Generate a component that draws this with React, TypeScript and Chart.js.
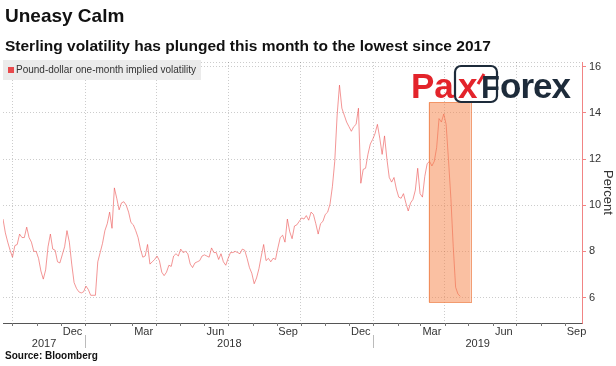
import React, { useEffect, useRef } from "react";
import { Chart, registerables } from "chart.js";

Chart.register(...registerables);

const TITLE = "Uneasy Calm";
const SUBTITLE = "Sterling volatility has plunged this month to the lowest since 2017";
const SERIES_LABEL = "Pound-dollar one-month implied volatility";
const SOURCE = "Source: Bloomberg";
const Y_TITLE = "Percent";

// Pound-dollar one-month implied volatility, one reading every 3 calendar days
const SERIES_START = "2017-09-19";
const SERIES_STEP_DAYS = 3;
const volatility = [
  9.4, 8.8, 8.4, 8.05, 7.75, 8.25, 8.3, 8.75, 8.6, 8.6,
  9.05, 8.6, 8.4, 8.0, 8.0, 7.7, 7.15, 6.8, 7.2, 8.2,
  8.75, 8.1, 8.05, 7.55, 7.5, 7.85, 8.2, 8.9, 8.4, 7.45,
  6.65, 6.4, 6.25, 6.2, 6.25, 6.5, 6.35, 6.1, 6.1, 6.1,
  7.55, 7.95, 8.35, 8.9, 9.2, 9.7, 9.0, 10.75, 10.3, 9.8,
  10.1, 10.15, 10.0, 9.7, 9.25, 9.15, 8.9, 8.6, 8.1, 7.75,
  7.8, 8.3, 7.45, 7.55, 7.65, 7.8, 7.6, 7.1, 6.95, 7.1,
  7.4, 7.35, 7.8, 7.9, 7.8, 8.1, 7.95, 8.0, 7.9, 7.45,
  7.3, 7.5, 7.55, 7.6, 7.8, 7.85, 7.8, 7.75, 8.15, 7.95,
  7.95, 7.65, 7.9, 7.55, 7.4, 7.7, 7.95, 7.95, 8.0, 7.95,
  7.9, 8.1, 8.05, 7.7, 7.3, 7.05, 6.6, 6.85, 7.25, 7.8,
  8.3, 7.6, 7.7, 7.55, 7.7, 7.65, 8.15, 8.6, 8.7, 8.4,
  9.4, 8.85, 8.55, 9.1, 9.15, 9.3, 9.45, 9.4, 9.55, 9.35,
  9.7, 9.6, 9.2, 8.75, 9.2, 9.3, 9.6, 9.7, 10.05, 10.8,
  11.9, 13.9, 15.2, 14.2, 13.9, 13.6, 13.4, 13.2, 13.4, 13.5,
  14.2, 10.95, 11.55, 11.6, 12.2, 12.65, 12.85, 13.1, 13.5, 12.9,
  12.2, 13.0, 12.0, 11.2, 11.0, 11.2, 10.7, 10.35, 10.3, 10.5,
  10.1, 9.75, 10.1, 10.25, 10.65, 11.6, 10.5, 10.35, 11.25, 11.8,
  11.9, 11.7, 11.9, 12.5, 13.75, 13.6, 13.95, 13.5, 11.95, 10.3,
  8.2, 6.45, 6.15, 6.05,
];

const X_MIN = "2017-09-19";
const X_MAX = "2019-09-22";
const Y_MIN = 4.9;
const Y_MAX = 16.2;
const Y_TICKS = [6, 8, 10, 12, 14, 16];
const QUARTER_GRID = [
  "2017-10-01", "2018-01-01", "2018-04-01", "2018-07-01",
  "2018-10-01", "2019-01-01", "2019-04-01", "2019-07-01",
];
const MONTH_TICKS = [
  "2017-10-01", "2017-11-01", "2017-12-01", "2018-01-01", "2018-02-01", "2018-03-01",
  "2018-04-01", "2018-05-01", "2018-06-01", "2018-07-01", "2018-08-01", "2018-09-01",
  "2018-10-01", "2018-11-01", "2018-12-01", "2019-01-01", "2019-02-01", "2019-03-01",
  "2019-04-01", "2019-05-01", "2019-06-01", "2019-07-01", "2019-08-01", "2019-09-01",
];
const MONTH_LABELS = ["Dec", "Mar", "Jun", "Sep", "Dec", "Mar", "Jun", "Sep"];
const MONTH_LABEL_DATES = [
  "2017-12-16", "2018-03-16", "2018-06-15", "2018-09-15",
  "2018-12-16", "2019-03-16", "2019-06-15", "2019-09-15",
];
const YEAR_LABELS = ["2017", "2018", "2019"];
const YEAR_BREAKS = ["2018-01-01", "2019-01-01"];
const HIGHLIGHT_DATES = ["2019-03-12", "2019-05-04"];
const HIGHLIGHT_RANGE = [5.8, 14.45];

const FONT = "'Liberation Sans', Arial, sans-serif";
const LINE_COLOR = "rgba(236,86,86,0.62)";
const GRID_COLOR = "rgba(0,0,0,0.2)";
const AXIS_PINK = "rgba(238,110,110,0.85)";

const dayOf = (s: string) => {
  const [y, m, d] = s.split("-").map(Number);
  return Date.UTC(y, m - 1, d) / 86400000;
};

function drawLogo(ctx: CanvasRenderingContext2D) {
  const red = "#e3242b";
  const navy = "#1d2b3a";
  ctx.save();
  ctx.textBaseline = "alphabetic";
  ctx.textAlign = "left";
  ctx.font = `bold 35px ${FONT}`;
  ctx.fillStyle = red;
  ctx.fillText("Pa", 411, 98);
  ctx.strokeStyle = navy;
  ctx.lineWidth = 2.2;
  ctx.beginPath();
  (ctx as any).roundRect(455, 66, 42, 36, 6);
  ctx.stroke();
  ctx.fillStyle = red;
  ctx.fillText("x", 458, 98);
  ctx.strokeStyle = red;
  ctx.lineWidth = 3;
  ctx.beginPath();
  ctx.moveTo(478, 84);
  ctx.lineTo(484, 74);
  ctx.stroke();
  ctx.font = `bold 31px ${FONT}`;
  ctx.fillStyle = navy;
  ctx.fillText("F", 481, 98);
  ctx.font = `bold 35px ${FONT}`;
  (ctx as any).letterSpacing = "-1px";
  ctx.fillText("orex", 500, 98);
  ctx.restore();
}

const overlay = {
  id: "overlay",
  beforeDatasetsDraw(chart: any) {
    const { ctx, chartArea: a } = chart;
    ctx.save();
    ctx.strokeStyle = GRID_COLOR;
    ctx.lineWidth = 1;
    ctx.setLineDash([1, 2]);
    ctx.beginPath();
    ctx.moveTo(a.left, Math.round(a.top) + 0.5);
    ctx.lineTo(a.right, Math.round(a.top) + 0.5);
    ctx.stroke();
    ctx.restore();
  },
  afterDatasetsDraw(chart: any) {
    const { ctx } = chart;
    const xs = chart.scales.x;
    const ys = chart.scales.y;
    const x1 = xs.getPixelForValue(dayOf(HIGHLIGHT_DATES[0]));
    const x2 = xs.getPixelForValue(dayOf(HIGHLIGHT_DATES[1]));
    const yTop = ys.getPixelForValue(HIGHLIGHT_RANGE[1]);
    const yBot = ys.getPixelForValue(HIGHLIGHT_RANGE[0]);
    ctx.save();
    ctx.fillStyle = "rgba(245,130,70,0.5)";
    ctx.fillRect(x1, yTop, x2 - x1, yBot - yTop);
    ctx.strokeStyle = "rgba(238,125,70,0.75)";
    ctx.lineWidth = 1;
    ctx.strokeRect(Math.round(x1) + 0.5, Math.round(yTop) + 0.5, Math.round(x2 - x1), Math.round(yBot - yTop));
    ctx.restore();
  },
  afterDraw(chart: any) {
    const { ctx, chartArea: a } = chart;
    const xs = chart.scales.x;
    ctx.save();
    // titles
    ctx.textAlign = "left";
    ctx.textBaseline = "alphabetic";
    ctx.fillStyle = "#111";
    ctx.font = `bold 19px ${FONT}`;
    ctx.fillText(TITLE, 5, 22);
    ctx.font = `bold 15.5px ${FONT}`;
    ctx.fillText(SUBTITLE, 5, 51);
    // legend
    ctx.fillStyle = "#ebebeb";
    ctx.fillRect(3, 60, 198, 20);
    ctx.fillStyle = "#e8494c";
    ctx.fillRect(8, 67, 6, 6);
    ctx.fillStyle = "#333";
    ctx.font = `10px ${FONT}`;
    ctx.textBaseline = "middle";
    ctx.fillText(SERIES_LABEL, 16, 70.5);
    // month ticks under axis
    ctx.strokeStyle = "#777";
    ctx.lineWidth = 1;
    MONTH_TICKS.forEach((d) => {
      const px = Math.round(xs.getPixelForValue(dayOf(d))) + 0.5;
      ctx.beginPath();
      ctx.moveTo(px, a.bottom);
      ctx.lineTo(px, a.bottom + 3);
      ctx.stroke();
    });
    // year separators
    ctx.strokeStyle = "#bbb";
    YEAR_BREAKS.forEach((d) => {
      const px = Math.round(xs.getPixelForValue(dayOf(d))) + 0.5;
      ctx.beginPath();
      ctx.moveTo(px, a.bottom + 12);
      ctx.lineTo(px, a.bottom + 25);
      ctx.stroke();
    });
    // month labels
    ctx.fillStyle = "#333";
    ctx.font = `11px ${FONT}`;
    ctx.textAlign = "center";
    ctx.textBaseline = "middle";
    MONTH_LABELS.forEach((m, i) => {
      ctx.fillText(m, xs.getPixelForValue(dayOf(MONTH_LABEL_DATES[i])), a.bottom + 8.5);
    });
    // year labels
    const edges = [xs.left, ...YEAR_BREAKS.map((d) => xs.getPixelForValue(dayOf(d))), xs.right];
    YEAR_LABELS.forEach((yl, i) => {
      ctx.fillText(yl, (edges[i] + edges[i + 1]) / 2, a.bottom + 20.5);
    });
    // source
    ctx.textAlign = "left";
    ctx.textBaseline = "alphabetic";
    ctx.fillStyle = "#111";
    ctx.font = `bold 10px ${FONT}`;
    ctx.fillText(SOURCE, 5, 359);
    ctx.restore();
    drawLogo(ctx);
  },
};

export default function App() {
  const ref = useRef<HTMLCanvasElement>(null);
  useEffect(() => {
    document.body.style.margin = "0";
    const canvas = ref.current!;
    const x0 = dayOf(SERIES_START);
    const points = volatility.map((v, i) => ({ x: x0 + i * SERIES_STEP_DAYS, y: v }));
    const chart = new Chart(canvas, {
      type: "line",
      data: {
        datasets: [
          {
            label: SERIES_LABEL,
            data: points,
            borderColor: LINE_COLOR,
            borderWidth: 1,
            pointRadius: 0,
            tension: 0,
            fill: false,
          },
        ],
      },
      options: {
        animation: false,
        responsive: false,
        devicePixelRatio: 1,
        layout: { padding: { top: 62, left: 3, right: 0, bottom: 43 } },
        plugins: {
          legend: { display: false },
          tooltip: { enabled: false },
          title: { display: false },
        },
        scales: {
          x: {
            type: "linear",
            min: dayOf(X_MIN),
            max: dayOf(X_MAX),
            afterBuildTicks: (s: any) => {
              s.ticks = QUARTER_GRID.map((d) => ({ value: dayOf(d) }));
            },
            ticks: { display: false },
            grid: { color: GRID_COLOR, lineWidth: 1, drawTicks: false },
            border: { display: true, color: "#555", width: 1, dash: [1, 2] },
          },
          y: {
            position: "right",
            min: Y_MIN,
            max: Y_MAX,
            afterBuildTicks: (s: any) => {
              s.ticks = Y_TICKS.map((v) => ({ value: v }));
            },
            afterFit: (s: any) => {
              s.width = 34;
            },
            ticks: { color: "#333", font: { family: FONT, size: 11 }, padding: 3 },
            grid: { color: GRID_COLOR, tickColor: AXIS_PINK, tickLength: 4, tickBorderDash: [] },
            border: { display: true, color: AXIS_PINK, width: 1, dash: [1, 2] },
            title: {
              display: true,
              text: Y_TITLE,
              color: "#333",
              font: { family: FONT, size: 13 },
              padding: { top: 1, bottom: 0 },
            },
          },
        },
      } as any,
      plugins: [overlay],
    });
    return () => chart.destroy();
  }, []);
  return <canvas ref={ref} width={616} height={366} style={{ display: "block" }} />;
}
